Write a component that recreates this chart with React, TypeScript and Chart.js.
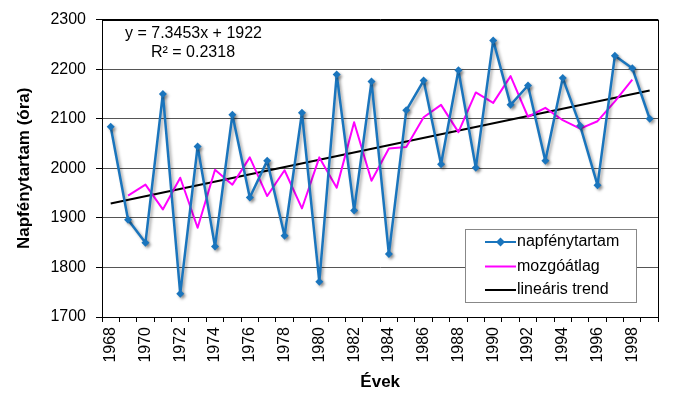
import React, { useEffect, useRef } from "react";
import { Chart, registerables } from "chart.js";

Chart.register(...registerables);

const years = [
  "1968","1969","1970","1971","1972","1973","1974","1975","1976","1977",
  "1978","1979","1980","1981","1982","1983","1984","1985","1986","1987",
  "1988","1989","1990","1991","1992","1993","1994","1995","1996","1997",
  "1998","1999",
];

const sunshine = [
  2084, 1896, 1850, 2150, 1747, 2044, 1842, 2108, 1941, 2015,
  1864, 2112, 1771, 2189, 1915, 2175, 1827, 2117, 2177, 2008,
  2198, 2001, 2258, 2128, 2167, 2015, 2182, 2086, 1966, 2227,
  2202, 2100,
];

const movingAvg = [
  null, 1945, 1967, 1917, 1981, 1880, 1997, 1967, 2022, 1944,
  1996, 1919, 2022, 1961, 2093, 1975, 2040, 2043, 2103, 2128,
  2073, 2153, 2132, 2186, 2104, 2122, 2097, 2080, 2095, 2135,
  2179, null,
];

const trend = [
  1929, null, null, null, null, null, null, null, null, null,
  null, null, null, null, null, null, null, null, null, null,
  null, null, null, null, null, null, null, null, null, null,
  null, 2157,
];

const yTicks = [1700, 1800, 1900, 2000, 2100, 2200, 2300];
const equationText = "y = 7.3453x + 1922";
const r2Text = "R² = 0.2318";
const legendLabels = ["napfénytartam", "mozgóátlag", "lineáris trend"];

const BLUE = "#1A75BD";
const MAGENTA = "#FF00FF";
const FONT = "'Liberation Sans', Arial, sans-serif";

export default function App() {
  const ref = useRef<HTMLCanvasElement>(null);

  useEffect(() => {
    document.body.style.margin = "0";
    const canvas = ref.current!;
    const overlay = {
      id: "overlay",
      beforeDatasetDraw(chart: any, args: any) {
        if (args.index === 0) {
          const ctx = chart.ctx;
          ctx.save();
          ctx.shadowColor = "rgba(0,0,0,0.35)";
          ctx.shadowOffsetX = 2;
          ctx.shadowOffsetY = 2;
          ctx.shadowBlur = 3;
        }
      },
      afterDatasetDraw(chart: any, args: any) {
        if (args.index === 0) chart.ctx.restore();
      },
      beforeDraw(chart: any) {
        const ctx = chart.ctx;
        ctx.save();
        ctx.fillStyle = "#fff";
        ctx.fillRect(0, 0, chart.width, chart.height);
        ctx.restore();
      },
      afterDraw(chart: any) {
        const ctx = chart.ctx;
        const a = chart.chartArea;
        ctx.save();
        ctx.strokeStyle = "#000";
        ctx.lineWidth = 1;
        ctx.strokeRect(Math.round(a.left) + 0.5, Math.round(a.top) + 0.5, Math.round(a.right - a.left), Math.round(a.bottom - a.top));
        // equation
        ctx.fillStyle = "#000";
        ctx.font = `16px ${FONT}`;
        ctx.textBaseline = "middle";
        ctx.textAlign = "left";
        ctx.fillText(equationText, 125, 34);
        ctx.textAlign = "center";
        ctx.fillText(r2Text, 193, 53);
        // legend
        const lx = 465, ly = 229, lw = 171, lh = 73;
        ctx.fillStyle = "#fff";
        ctx.fillRect(lx, ly, lw, lh);
        ctx.strokeStyle = "#888";
        ctx.strokeRect(lx + 0.5, ly + 0.5, lw, lh);
        const rows = [242, 266.5, 290];
        const colors = [BLUE, MAGENTA, "#000"];
        rows.forEach((ry, i) => {
          ctx.strokeStyle = colors[i];
          ctx.lineWidth = 2;
          ctx.beginPath();
          ctx.moveTo(485, ry);
          ctx.lineTo(516, ry);
          ctx.stroke();
          if (i === 0) {
            ctx.fillStyle = BLUE;
            ctx.beginPath();
            ctx.moveTo(500.5, ry - 4.5);
            ctx.lineTo(505, ry);
            ctx.lineTo(500.5, ry + 4.5);
            ctx.lineTo(496, ry);
            ctx.closePath();
            ctx.fill();
          }
          ctx.fillStyle = "#000";
          ctx.font = `16px ${FONT}`;
          ctx.textAlign = "left";
          ctx.fillText(legendLabels[i], 517, ry);
        });
        ctx.restore();
      },
    };

    const chart = new Chart(canvas, {
      type: "line",
      data: {
        labels: years,
        datasets: [
          {
            label: legendLabels[0],
            data: sunshine,
            borderColor: BLUE,
            backgroundColor: BLUE,
            borderWidth: 2.5,
            borderJoinStyle: "round",
            pointStyle: "rectRot",
            pointRadius: 4,
            pointBorderWidth: 0,
            tension: 0,
          },
          {
            label: legendLabels[1],
            data: movingAvg,
            borderColor: MAGENTA,
            backgroundColor: MAGENTA,
            borderWidth: 2,
            borderJoinStyle: "round",
            pointRadius: 0,
            tension: 0,
          },
          {
            label: legendLabels[2],
            data: trend,
            borderColor: "#000",
            backgroundColor: "#000",
            borderWidth: 2,
            pointRadius: 0,
            spanGaps: true,
            tension: 0,
          },
        ],
      },
      options: {
        responsive: false,
        animation: false,
        layout: { padding: { top: 18, right: 8, left: 0, bottom: 0 } },
        plugins: { legend: { display: false }, tooltip: { enabled: false } },
        scales: {
          x: {
            offset: true,
            grid: { offset: true, drawOnChartArea: false, tickLength: 5, color: "#000" },
            border: { color: "#000" },
            ticks: {
              autoSkip: false,
              maxRotation: 90,
              minRotation: 90,
              padding: 5,
              color: "#000",
              font: { family: FONT, size: 16 },
              callback: (_v: any, i: number) => (i % 2 === 0 ? years[i] : ""),
            },
            title: {
              display: true,
              text: "Évek",
              color: "#000",
              font: { family: FONT, size: 17, weight: "bold" },
              padding: { top: 0, bottom: 1 },
            },
            afterFit: (s: any) => { s.height = 77; },
          },
          y: {
            min: 1700,
            max: 2300,
            afterBuildTicks: (s: any) => { s.ticks = yTicks.map((v) => ({ value: v })); },
            grid: {
              color: (c: any) => (c.tick && (c.tick.value === 1700 || c.tick.value === 2300) ? "#000" : "#555"),
              tickColor: "#000",
              tickLength: 6,
              lineWidth: 1,
            },
            border: { color: "#000" },
            ticks: {
              padding: 10,
              color: "#000",
              font: { family: FONT, size: 16 },
              callback: (v: any) => String(v),
            },
            title: {
              display: true,
              text: "Napfénytartam (óra)",
              color: "#000",
              font: { family: FONT, size: 17, weight: "bold" },
              padding: { top: 14, bottom: 0 },
            },
            afterFit: (s: any) => { s.width = 102; },
          },
        },
      },
      plugins: [overlay],
    } as any);
    return () => chart.destroy();
  }, []);

  return <canvas ref={ref} width={674} height={394} style={{ display: "block" }} />;
}
